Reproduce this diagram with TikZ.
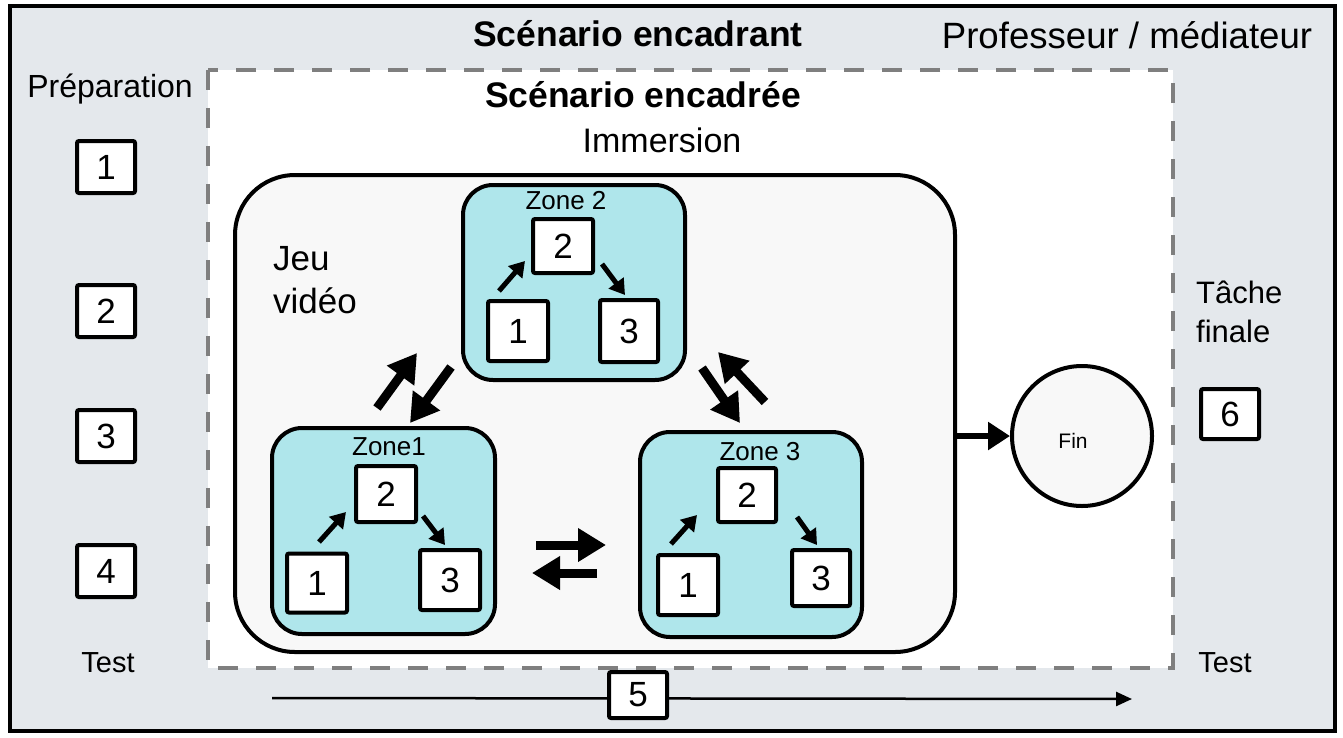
\documentclass[tikz,border=0pt]{standalone}
\usepackage{fontspec}
\setmainfont{Liberation Sans}
\usetikzlibrary{arrows.meta,calc}
\definecolor{bggray}{HTML}{E4E8EC}
\definecolor{zonecyan}{HTML}{AFE6EB}
\definecolor{dashgray}{HTML}{7F7F7F}
\definecolor{jeufill}{HTML}{F8F8F8}
\tikzset{
  numbox/.style={draw, line width=4pt, fill=white, minimum width=58pt, minimum height=52pt, inner sep=0pt, rounded corners=2pt, font=\fontsize{35}{35}\selectfont},
  zonebox/.style={draw, line width=4pt, fill=zonecyan, rounded corners=30pt, inner sep=0pt},
  bigarrow/.style={line width=9pt, -{Triangle[length=28pt,width=32pt]}},
  smallarrow/.style={line width=5pt, -{Triangle[length=15pt,width=18pt]}},
  lbl/.style={inner sep=0pt, anchor=base},
}
\begin{document}
\begin{tikzpicture}[x=1pt,y=-1pt]
\useasboundingbox (0,0) rectangle (1343,737);
\fill[white] (0,0) rectangle (1343,737);
% outer frame
\draw[line width=4pt, fill=bggray] (10,6) rectangle (1335,731);
% dashed inner scenario
\draw[line width=4pt, dashgray, fill=white, dash pattern=on 20pt off 18pt] (208,70) rectangle (1173,668);

% titles
\node[lbl, font=\fontsize{35.5}{35.5}\selectfont\bfseries] (tenc) at (638,46) {Scénario encadrant};
\node[lbl, font=\fontsize{36.6}{36.6}\selectfont] (tprof) at (1127,48) {Professeur / médiateur};
\node[lbl, font=\fontsize{32}{32}\selectfont] (tprep) at (110,97) {Préparation};
\node[lbl, font=\fontsize{35.5}{35.5}\selectfont\bfseries] (tencee) at (643,107) {Scénario encadrée};
\node[lbl, font=\fontsize{34}{34}\selectfont] (timm) at (662,152) {Immersion};
\node[lbl, font=\fontsize{29}{29}\selectfont] (ttest1) at (108,672) {Test};
\node[lbl, font=\fontsize{29}{29}\selectfont] (ttest2) at (1225,672) {Test};
\node[lbl, anchor=base west, align=left, font=\fontsize{31}{39}\selectfont] (ttache) at (1196,342) {Tâche\\finale};

% left boxes
\node[numbox] (p1) at (106,167) {1};
\node[numbox] (p2) at (106,311) {2};
\node[numbox] (p3) at (106,436) {3};
\node[numbox] (p4) at (106,571) {4};
\node[numbox, minimum height=50pt] (p6) at (1230,414) {6};

% bottom timeline
\coordinate (tl0) at (272,698);
\coordinate (tl1) at (1132,699);
\draw[line width=2.5pt, -{Triangle[length=16pt,width=14pt]}] (tl0) -- (tl1);
\node[numbox, minimum height=46pt] (p5) at (638,695) {5};

% game area
\node[draw, line width=4pt, fill=jeufill, rounded corners=60pt, minimum width=720pt, minimum height=477pt, inner sep=0pt] (jeu) at (595,413.5) {};
\node[lbl, anchor=base west, align=left, font=\fontsize{35}{43}\selectfont] (tjeu) at (273,313) {Jeu\\vidéo};

% Fin
\node[draw, circle, line width=4pt, fill=jeufill, minimum size=140pt, inner sep=0pt] (fin) at (1082,436) {};
\node[lbl, font=\fontsize{21}{21}\selectfont] (fint) at (1073,448) {Fin};
\draw[line width=6pt, -{Triangle[length=22pt,width=27pt]}] (jeu.east |- fin.west) -- (fin.west);

% Zone 2
\node[zonebox, minimum width=222pt, minimum height=195pt] (z2) at (574,282.5) {};
\node[lbl, font=\fontsize{26}{26}\selectfont] (z2t) at (566,209) {Zone 2};
\node[numbox, minimum width=60pt, minimum height=54pt] (z2b2) at (563,246) {2};
\node[numbox, minimum width=60pt, minimum height=60pt] (z2b1) at (518,331) {1};
\node[numbox, minimum width=58pt, minimum height=62pt] (z2b3) at (629,331) {3};
\coordinate (z2a1s) at (499,291); \coordinate (z2a1e) at (525,261);
\coordinate (z2a2s) at (602,264); \coordinate (z2a2e) at (625,295);
\draw[smallarrow] (z2a1s) -- (z2a1e);
\draw[smallarrow] (z2a2s) -- (z2a2e);

% Zone 1
\node[zonebox, minimum width=223pt, minimum height=206pt] (z1) at (383.5,531) {};
\node[lbl, font=\fontsize{26}{26}\selectfont] (z1t) at (389,455) {Zone1};
\node[numbox, minimum width=60pt, minimum height=56pt] (z1b2) at (386,494) {2};
\node[numbox, minimum width=60pt, minimum height=59pt] (z1b1) at (317,583) {1};
\node[numbox, minimum width=60pt, minimum height=60pt] (z1b3) at (450,580) {3};
\coordinate (z1a1s) at (319,542); \coordinate (z1a1e) at (346,512);
\coordinate (z1a2s) at (423,516); \coordinate (z1a2e) at (445,545);
\draw[smallarrow] (z1a1s) -- (z1a1e);
\draw[smallarrow] (z1a2s) -- (z1a2e);

% Zone 3
\node[zonebox, minimum width=222pt, minimum height=205pt] (z3) at (751,534.5) {};
\node[lbl, font=\fontsize{26}{26}\selectfont] (z3t) at (760,460) {Zone 3};
\node[numbox, minimum width=58pt, minimum height=54pt] (z3b2) at (747,495) {2};
\node[numbox, minimum width=60pt, minimum height=60pt] (z3b1) at (688,585) {1};
\node[numbox, minimum width=58pt, minimum height=56pt] (z3b3) at (821,578) {3};
\coordinate (z3a1s) at (671,544); \coordinate (z3a1e) at (697,515);
\coordinate (z3a2s) at (797,517); \coordinate (z3a2e) at (817,545);
\draw[smallarrow] (z3a1s) -- (z3a1e);
\draw[smallarrow] (z3a2s) -- (z3a2e);

% transitions between zones
\coordinate (l1s) at (377,408); \coordinate (l1e) at (417,353);
\coordinate (l2s) at (451,367); \coordinate (l2e) at (410,423);
\coordinate (r1s) at (702,368); \coordinate (r1e) at (740,423);
\coordinate (r2s) at (765,402); \coordinate (r2e) at (718,352);
\coordinate (h1s) at (536,545); \coordinate (h1e) at (606,545);
\coordinate (h2s) at (597,573); \coordinate (h2e) at (532,573);
\draw[bigarrow] (l1s) -- (l1e);
\draw[bigarrow] (l2s) -- (l2e);
\draw[bigarrow] (r1s) -- (r1e);
\draw[bigarrow] (r2s) -- (r2e);
\draw[bigarrow] (h1s) -- (h1e);
\draw[bigarrow] (h2s) -- (h2e);
\end{tikzpicture}
\end{document}
